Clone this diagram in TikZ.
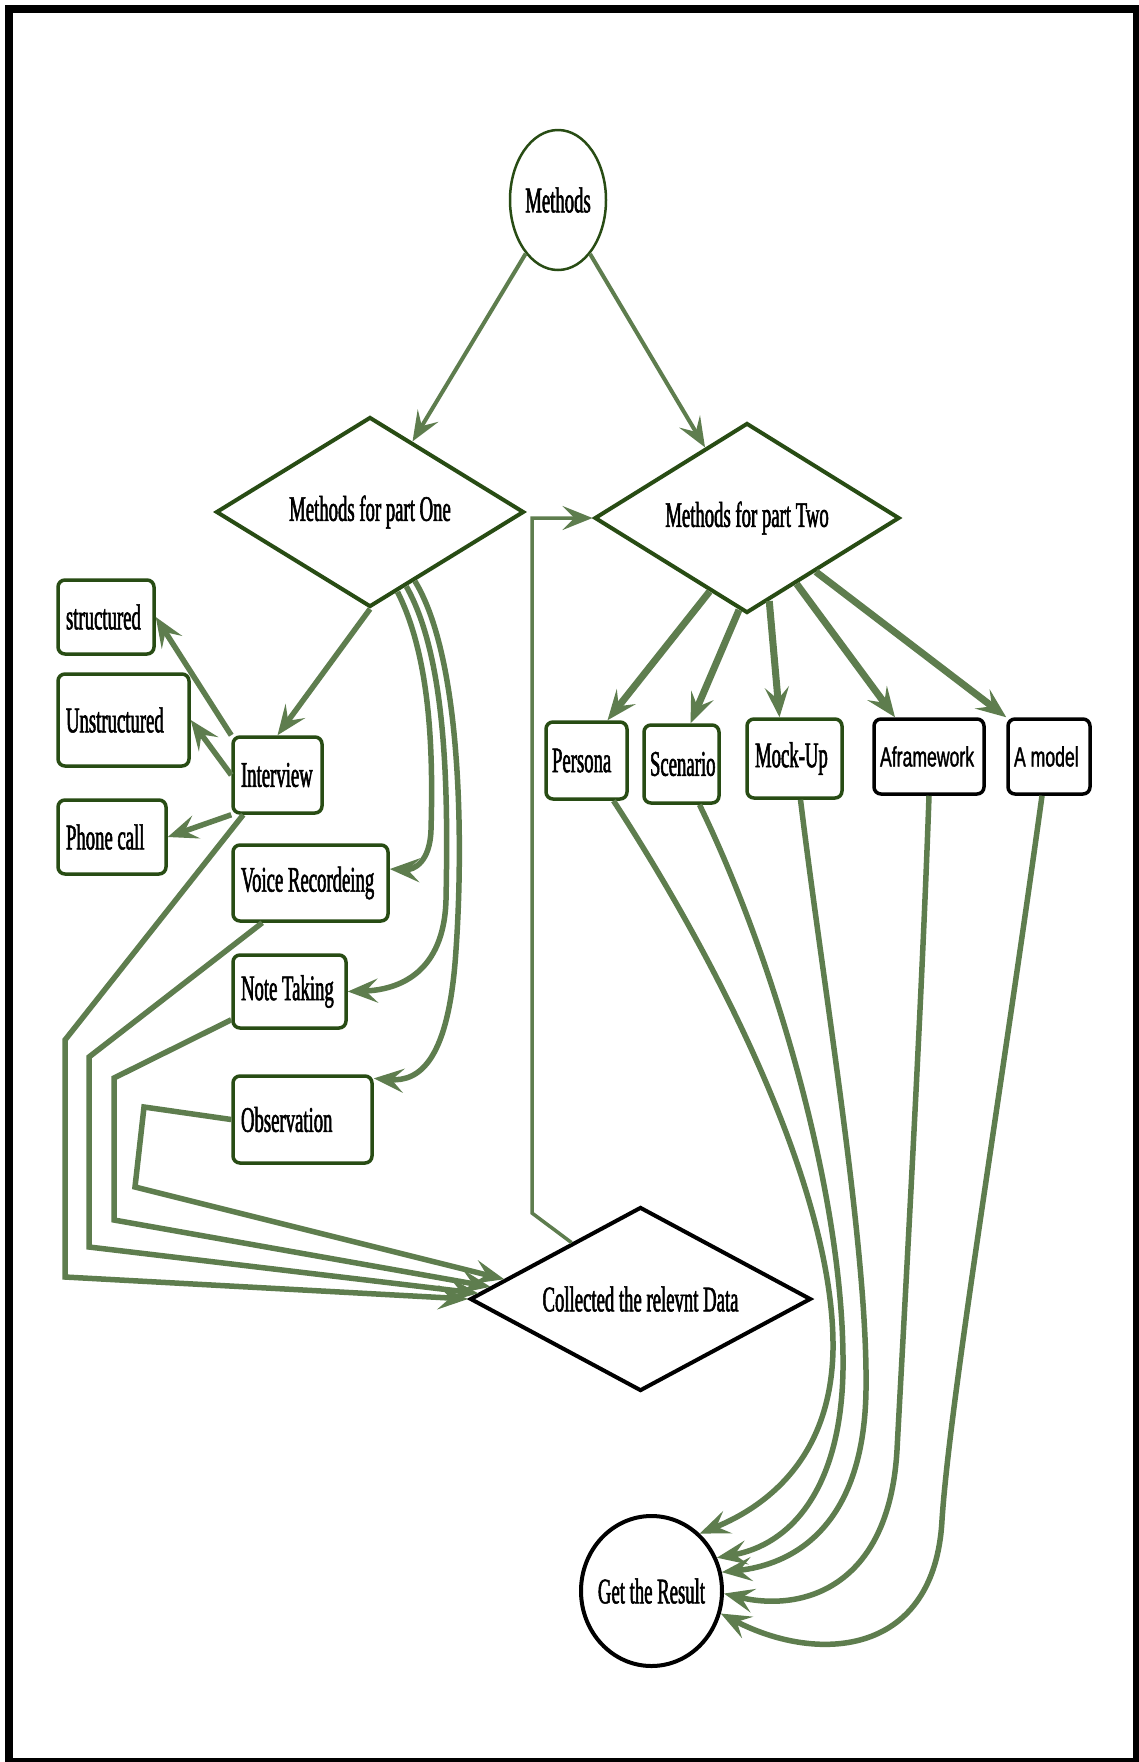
\documentclass[tikz,border=0pt]{standalone}
\usepackage{fontspec}
\setmainfont[FakeStretch=0.52,FakeBold=1.5]{Liberation Serif}
\newfontfamily\narrowsans[FakeStretch=0.63,FakeBold=1.2]{Liberation Sans}
\usetikzlibrary{shapes.geometric,arrows.meta,calc}
\definecolor{cgreen}{RGB}{94,125,78}
\definecolor{dgreen}{RGB}{40,76,20}
\newcommand\lbx[2]{\makebox[#1][l]{#2}}
\begin{document}
\begin{tikzpicture}[x=1pt,y=-1pt,
  every node/.style={font=\fontsize{36}{40}\selectfont, text=black},
  box/.style={draw=dgreen, line width=3.5pt, rounded corners=7pt, fill=white, inner xsep=8pt, inner ysep=0pt},
  bbox/.style={box, draw=black, font=\narrowsans\fontsize{28}{32}\selectfont},
  dia/.style={diamond, draw=dgreen, line width=4pt, inner sep=0pt, fill=white},
  tip/.style={-{Stealth[length=30pt,width=24pt,inset=12pt]}},
  arr/.style={draw=cgreen, line width=5.5pt, tip},
  arrthin/.style={draw=cgreen, line width=4pt, tip},
  arrthick/.style={draw=cgreen, line width=7pt, tip},
  fback/.style={draw=cgreen, line width=3.5pt, tip}
]
\useasboundingbox (0,0) rectangle (1139,1762);
\fill[white] (0,0) rectangle (1139,1762);
\draw[line width=8pt] (9,9) rectangle (1137,1762);

% nodes
\node[ellipse, draw=dgreen, line width=2.5pt, fill=white, minimum width=96pt, minimum height=140pt, inner sep=0pt] (methods) at (558,200) {\makebox[0pt]{Methods}};
\node[dia, minimum width=308pt, minimum height=190pt, shape aspect=1.63] (one) at (370,512) {Methods for part One};
\node[dia, minimum width=305pt, minimum height=190pt, shape aspect=1.6] (two) at (747,518) {Methods for part Two};
\node[dia, draw=black, minimum width=341pt, minimum height=184pt, shape aspect=1.85] (coll) at (640.5,1299) {Collected the relevnt Data};
\node[ellipse, draw=black, line width=4pt, fill=white, minimum width=141pt, minimum height=150pt, inner sep=0pt] (result) at (651.5,1591) {\makebox[0pt]{Get the Result}};

\node[box, minimum height=74pt] (structured) at (106,617) {\lbx{80pt}{structured}};
\node[box, minimum height=92pt] (unstructured) at (123.5,720) {\lbx{115pt}{Unstructured}};
\node[box, minimum height=74pt] (phone) at (112,837) {\lbx{92pt}{Phone call}};
\node[box, minimum height=76pt] (interview) at (277.5,775) {\lbx{73pt}{Interview}};
\node[box, minimum height=76pt] (voice) at (310.5,883) {\lbx{139pt}{Voice Recordeing}};
\node[box, minimum height=73pt] (note) at (289.5,991.5) {\lbx{97pt}{Note Taking}};
\node[box, minimum height=87pt] (obs) at (302.5,1119.5) {\lbx{123pt}{Observation}};

\node[box, inner xsep=6pt, minimum height=77pt] (persona) at (586.5,760.5) {\lbx{69pt}{Persona}};
\node[box, inner xsep=6pt, minimum height=78pt] (scenario) at (681.5,764) {\lbx{63pt}{Scenario}};
\node[box, minimum height=79pt] (mockup) at (794.5,758.5) {\lbx{79pt}{Mock-Up}};
\node[bbox, inner xsep=6pt, minimum height=75pt] (aframe) at (929,756.5) {\lbx{98pt}{Aframework}};
\node[bbox, inner xsep=6pt, minimum height=75pt] (amodel) at (1049,756.5) {\lbx{70pt}{A model}};

% connectors from the top
\draw[arrthin] (methods) -- (one);
\draw[arrthin] (methods) -- (two);
\draw[arr] (one.south) -- (interview.north);
\draw[arr] (interview.north west) -- (structured.east);
\draw[arr] (interview.west) -- (unstructured.east);
\draw[arr] (interview.south west) -- (phone.east);

% curves from part One
\draw[arr] (one.-71) .. controls (432,660) and (433,760) .. (431,830) .. controls (430,862) and (414,870) .. (voice.10);
\draw[arr] (one.-64) .. controls (448,660) and (448,800) .. (446,900) .. controls (444,972) and (400,990) .. (note.east);
\draw[arr] (one.-57) .. controls (463,660) and (463,850) .. (456,950) .. controls (449,1060) and (420,1082) .. (obs.30);

% lines into Collected
\draw[arr] ($(interview.south west)+(12,0)$) -- (65,1040) -- (65,1277) -- (coll.west);
\draw[arr] ($(voice.south west)+(31,0)$) -- (89,1057) -- (89,1247) -- ($(coll.west)!0.06!(coll.north)$);
\draw[arr] ($(note.south west)+(0,-10)$) -- (114,1078) -- (114,1220) -- ($(coll.west)!0.13!(coll.north)$);
\draw[arr] (obs.west) -- (144,1107) -- (135,1187) -- ($(coll.west)!0.21!(coll.north)$);

% feedback to part Two
\draw[fback] ($(coll.west)!0.6!(coll.north)$) -- (532,1213) -- (532,518) -- (two.west);

% part Two to its methods
\draw[arrthick] (two.-117) -- ($(persona.north)+(21,0)$);
\draw[arrthick] (two.-95) -- ($(scenario.north)+(9,0)$);
\draw[arrthick] (two.-75) -- ($(mockup.north)+(-15,0)$);
\draw[arrthick] (two.-53) -- ($(aframe.north)+(-34,0)$);
\draw[arrthick] (two.-38) -- (amodel.north west);

% curves to the result
\draw[arr] ($(persona.south)+(27,0)$) .. controls (730,980) and (835,1200) .. (833,1350) .. controls (831,1455) and (770,1505) .. (result.50);
\draw[arr] ($(scenario.south)+(18,0)$) .. controls (775,960) and (845,1200) .. (843,1370) .. controls (841,1490) and (790,1545) .. (result.27);
\draw[arr] ($(mockup.south)+(6,0)$) .. controls (825,1000) and (868,1250) .. (866,1390) .. controls (864,1530) and (790,1565) .. (result.15);
\draw[arr] (aframe.south) .. controls (922,1000) and (905,1300) .. (897,1450) .. controls (889,1590) and (800,1612) .. (result.-2);
\draw[arr] ($(amodel.south)+(-7,0)$) .. controls (1000,1100) and (950,1400) .. (942,1520) .. controls (935,1655) and (820,1665) .. (result.-18);
\end{tikzpicture}
\end{document}
